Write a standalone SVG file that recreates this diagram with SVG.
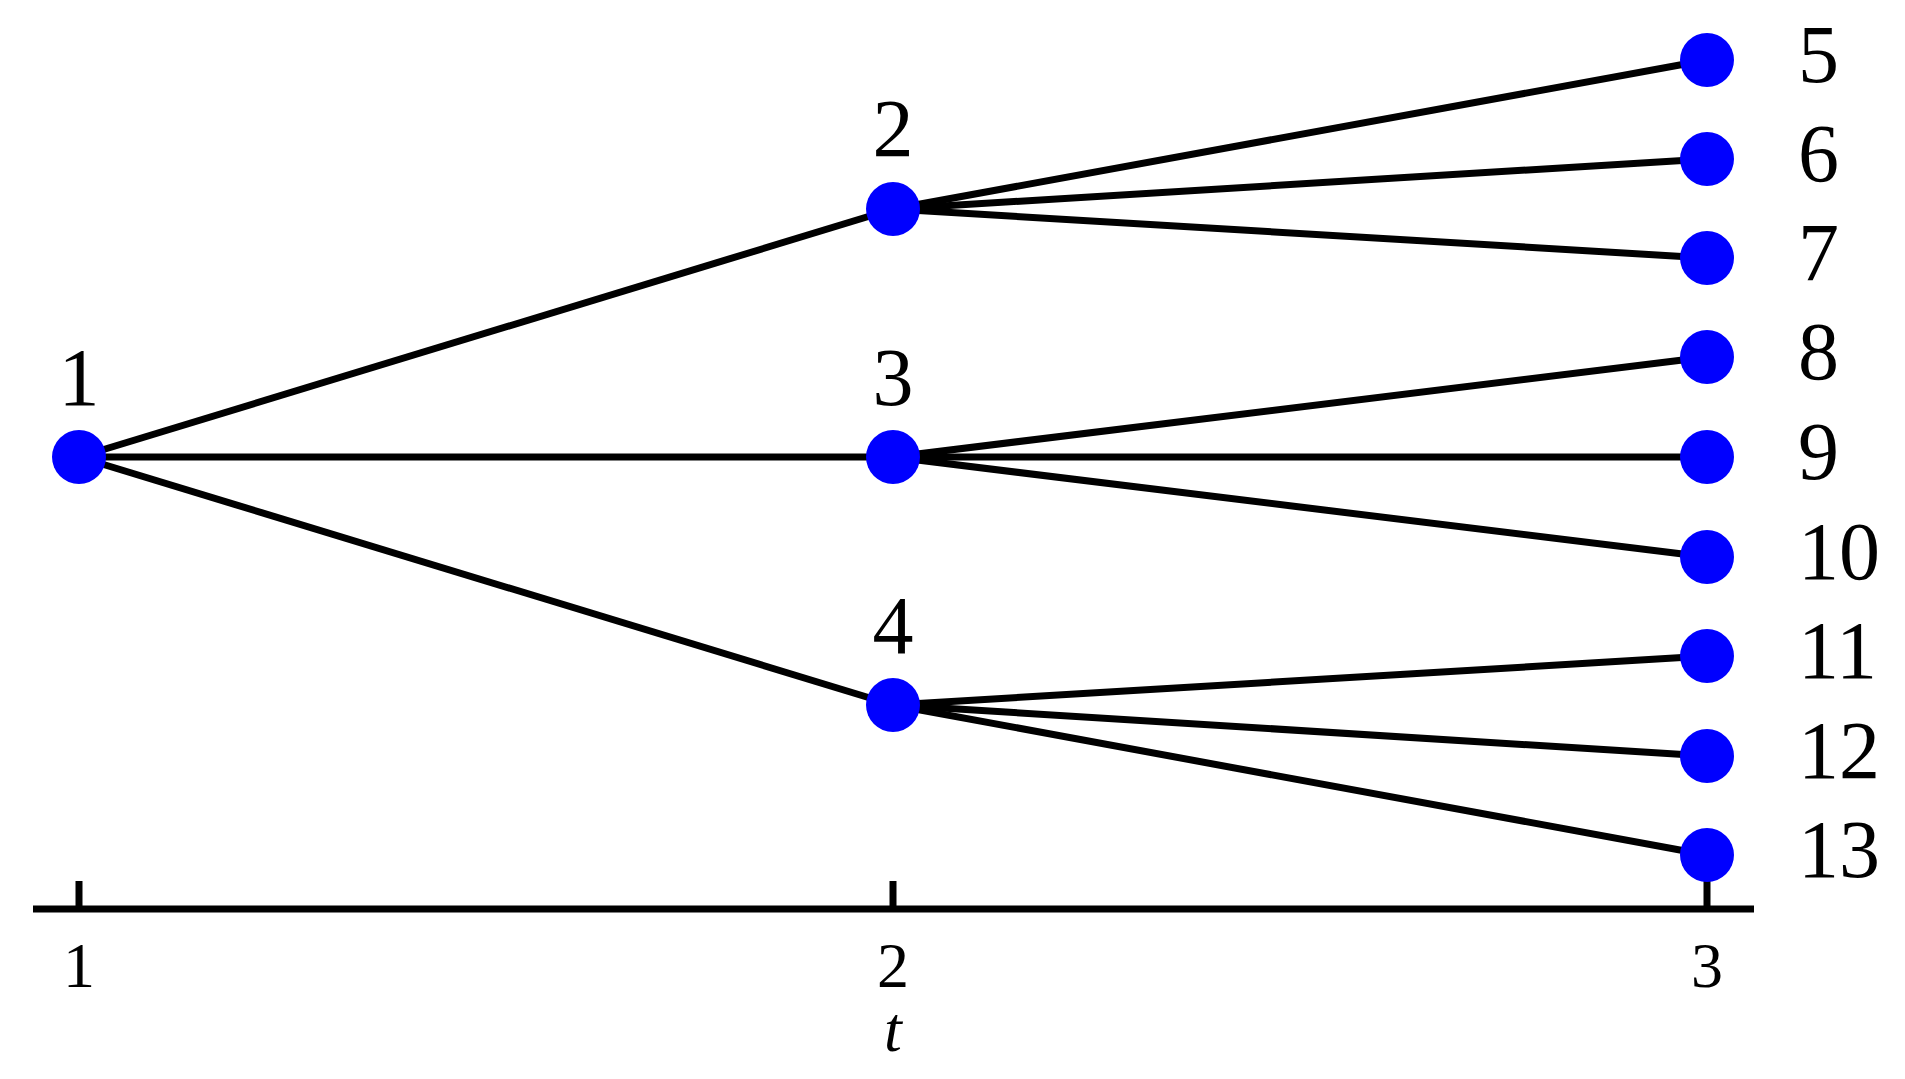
<svg xmlns="http://www.w3.org/2000/svg" width="1905" height="1079" viewBox="0 0 1905 1079">
<style>
.e{stroke:#000;stroke-width:7;fill:none}
.n{fill:#0000ff}
.t{font-family:"Liberation Serif",serif;font-size:82px;fill:#000}
.a{font-family:"Liberation Serif",serif;font-size:64px;fill:#000;text-anchor:middle}
.c{text-anchor:middle}
</style>
<rect width="1905" height="1079" fill="#fff"/>
<g id="axis">
<line class="e" x1="33" y1="909" x2="1754" y2="909" stroke-width="4"/>
<line class="e" x1="79" y1="881" x2="79" y2="909"/>
<line class="e" x1="893" y1="881" x2="893" y2="909"/>
<line class="e" x1="1707" y1="881" x2="1707" y2="909"/>
<text class="a" x="79" y="987">1</text>
<text class="a" x="893" y="987">2</text>
<text class="a" x="1707" y="987">3</text>
<text class="a" x="893" y="1051" font-style="italic">t</text>
</g>
<g id="connectors">
<line class="e" x1="79" y1="457" x2="893" y2="209"/>
<line class="e" x1="79" y1="457" x2="893" y2="457"/>
<line class="e" x1="79" y1="457" x2="893" y2="705"/>
<line class="e" x1="893" y1="209" x2="1707" y2="60"/>
<line class="e" x1="893" y1="209" x2="1707" y2="159"/>
<line class="e" x1="893" y1="209" x2="1707" y2="258"/>
<line class="e" x1="893" y1="457" x2="1707" y2="357"/>
<line class="e" x1="893" y1="457" x2="1707" y2="457"/>
<line class="e" x1="893" y1="457" x2="1707" y2="557"/>
<line class="e" x1="893" y1="705" x2="1707" y2="656"/>
<line class="e" x1="893" y1="705" x2="1707" y2="756"/>
<line class="e" x1="893" y1="705" x2="1707" y2="855"/>
</g>
<g id="node1"><circle class="n" cx="79" cy="457" r="27"/><text class="t c" x="79" y="405">1</text></g>
<g id="node2"><circle class="n" cx="893" cy="209" r="27"/><text class="t c" x="893" y="156">2</text></g>
<g id="node3"><circle class="n" cx="893" cy="457" r="27"/><text class="t c" x="893" y="405">3</text></g>
<g id="node4"><circle class="n" cx="893" cy="705" r="27"/><text class="t c" x="893" y="653">4</text></g>
<g id="node5"><circle class="n" cx="1707" cy="60" r="27"/><text class="t" x="1798" y="82">5</text></g>
<g id="node6"><circle class="n" cx="1707" cy="159" r="27"/><text class="t" x="1798" y="181">6</text></g>
<g id="node7"><circle class="n" cx="1707" cy="258" r="27"/><text class="t" x="1798" y="280">7</text></g>
<g id="node8"><circle class="n" cx="1707" cy="357" r="27"/><text class="t" x="1798" y="379">8</text></g>
<g id="node9"><circle class="n" cx="1707" cy="457" r="27"/><text class="t" x="1798" y="479">9</text></g>
<g id="node10"><circle class="n" cx="1707" cy="557" r="27"/><text class="t" x="1798" y="579">10</text></g>
<g id="node11"><circle class="n" cx="1707" cy="656" r="27"/><text class="t" x="1798" y="678">11</text></g>
<g id="node12"><circle class="n" cx="1707" cy="756" r="27"/><text class="t" x="1798" y="778">12</text></g>
<g id="node13"><circle class="n" cx="1707" cy="855" r="27"/><text class="t" x="1798" y="877">13</text></g>
</svg>
